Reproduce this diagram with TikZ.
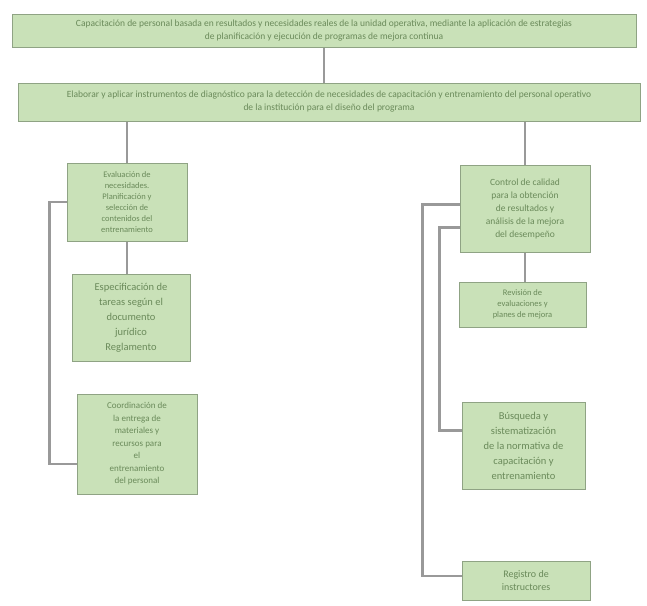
\documentclass[tikz,border=0pt]{standalone}
\usepackage{fontspec}
\setmainfont{Carlito}
\usepackage{xcolor}
\usepackage{tikz}
\usetikzlibrary{positioning}

\definecolor{verdecaja}{HTML}{C9E1B8}
\definecolor{bordecaja}{HTML}{8FA384}
\definecolor{textocaja}{HTML}{6A8A5A}
\definecolor{gristrazo}{HTML}{999999}

\begin{document}
\begin{tikzpicture}[x=1pt, y=-1pt,
            caja/.style   ={rectangle, draw=bordecaja, fill=verdecaja, line width=1pt,
                            text=textocaja, align=center, inner sep=2pt,
                            font=\fontsize{8.5}{11}\selectfont},
            cajac/.style  ={caja, font=\fontsize{9.5}{13}\selectfont},
            cajag/.style  ={caja, font=\fontsize{10.5}{15}\selectfont},
            linea/.style  ={draw=gristrazo, line width=2.2pt}
        ]
            \useasboundingbox (0,0) rectangle (647,605);

            % --- Cabecera ---
            \node[cajac, minimum width=624pt, minimum height=33pt] (objetivo) at (324,30.5)
                {Capacitación de personal basada en resultados y necesidades reales de la unidad operativa, mediante la aplicación de estrategias\\
                 de planificación y ejecución de programas de mejora continua};
            \node[cajac, minimum width=622pt, minimum height=38pt] (diagnostico) at (329,102)
                {Elaborar y aplicar instrumentos de diagnóstico para la detección de necesidades de capacitación y entrenamiento del personal operativo\\
                 de la institución para el diseño del programa};

            % --- Columna izquierda ---
            \node[caja, minimum width=120pt, minimum height=78pt] (evalua) at (127,202)
                {Evaluación de\\necesidades.\\Planificación y\\selección de\\contenidos del\\entrenamiento};
            \node[cajag, minimum width=118pt, minimum height=87pt, below=32pt of evalua, xshift=4pt] (tareas)
                {Especificación de\\tareas según el\\documento\\jurídico\\Reglamento};
            \node[caja, font=\fontsize{9}{12.5}\selectfont, minimum width=120pt, minimum height=100pt,
                  below=32pt of tareas, xshift=6pt] (materiales)
                {Coordinación de\\la entrega de\\materiales y\\recursos para\\el\\entrenamiento\\del personal};

            % --- Columna derecha ---
            \node[cajac, minimum width=130pt, minimum height=87pt] (control) at (525,208.5)
                {Control de calidad\\para la obtención\\de resultados y\\análisis de la mejora\\del desempeño};
            \node[caja, minimum width=127pt, minimum height=45pt, below=29pt of control, xshift=-2.5pt] (revision)
                {Revisión de\\evaluaciones y\\planes de mejora};
            \node[cajag, minimum width=123pt, minimum height=87pt, below=74pt of revision, xshift=1pt] (normativa)
                {Búsqueda y\\sistematización\\de la normativa de\\capacitación y\\entrenamiento};
            \node[cajag, font=\fontsize{10}{13}\selectfont, minimum width=128pt, minimum height=39pt,
                  below=71pt of normativa, xshift=2.5pt] (registro)
                {Registro de\\instructores};

            % --- Enlaces ---
            \draw[linea] (objetivo.south) -- (objetivo.south |- diagnostico.north);
            \draw[linea] (diagnostico.south -| evalua.north) -- (evalua.north);
            \draw[linea] (diagnostico.south -| control.north) -- (control.north);

            % Rama izquierda
            \draw[linea] (evalua.south) -- (evalua.south |- tareas.north);
            \draw[linea] (evalua.west) -- ++(-17,0) |- ([yshift=-20pt]materiales.west);

            % Rama derecha (dos retornos por el margen izquierdo)
            \draw[linea] (control.south) -- (control.south |- revision.north);
            \draw[linea] ([yshift=4pt]control.west) -- ++(-37,0) |- ([yshift=4.5pt]registro.west);
            \draw[linea] ([yshift=-19pt]control.west) -- ++(-20,0) |- ([yshift=15pt]normativa.west);
        \end{tikzpicture}
\end{document}
